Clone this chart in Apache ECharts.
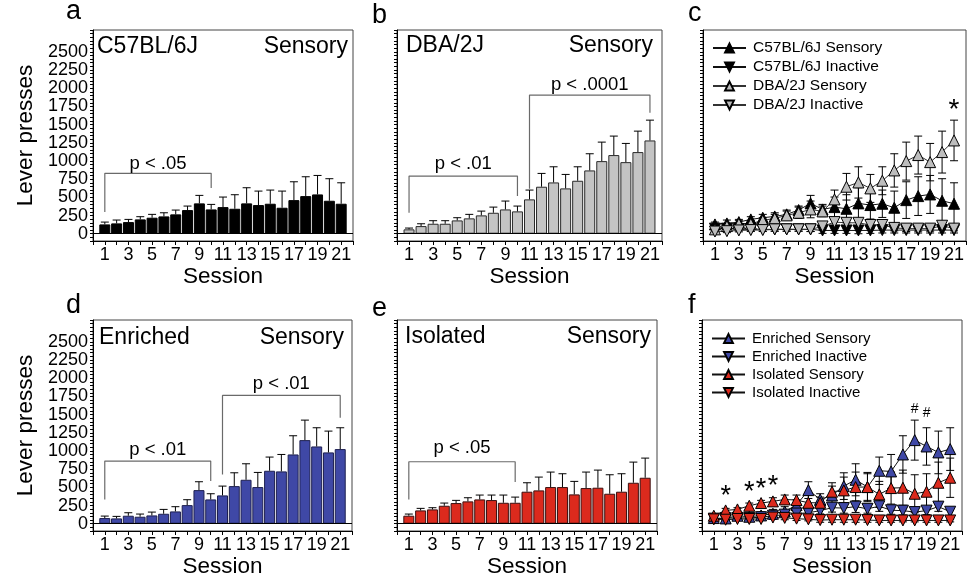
<!DOCTYPE html>
<html><head><meta charset="utf-8">
<script src="https://cdn.jsdelivr.net/npm/echarts@6/dist/echarts.min.js"></script>
<style>html,body{margin:0;padding:0;background:#fff}#c{width:969px;height:581px}</style>
</head><body><div id="c"></div>
<script>
const FONT = '"Liberation Sans", Arial, sans-serif';
const sessions = [1,2,3,4,5,6,7,8,9,10,11,12,13,14,15,16,17,18,19,20,21];
const xTickLabels = [1,3,5,7,9,11,13,15,17,19,21];
const yTickLabels = [0,250,500,750,1000,1250,1500,1750,2000,2250,2500];

// Panel a / c : C57BL/6J
const c57Sens    = [128,142,160,197,220,238,266,325,417,334,366,343,417,394,412,357,462,517,540,453,412];
const c57SensErr = [32,46,37,37,46,50,59,55,110,69,138,193,215,192,188,229,252,266,261,303,288];
const c57Inact    = [70,70,65,65,60,60,60,60,60,45,45,45,45,45,50,50,50,50,50,50,50];
const c57InactErr = [30,25,25,25,25,25,25,25,30,40,40,40,45,40,40,40,40,40,40,40,40];
// Panel b / c : DBA/2J
const dbaSens    = [60,105,137,137,183,211,252,288,334,307,472,646,705,623,728,870,998,1081,984,1122,1282];
const dbaSensErr = [18,32,42,42,37,55,59,78,115,73,128,183,215,192,192,229,261,261,257,288,279];
const dbaInact    = [30,35,45,50,50,60,60,60,60,100,160,150,150,120,120,80,70,70,70,110,70];
const dbaInactErr = [20,20,20,20,20,25,25,25,30,50,50,60,60,45,45,40,40,35,35,50,30];
// Panel d / f : Enriched
const enrSens    = [78,73,110,96,114,137,169,256,462,334,389,517,604,504,728,719,952,1149,1062,980,1026];
const enrSensErr = [27,28,41,37,46,60,65,74,115,78,128,183,220,201,188,233,257,275,257,293,293];
const enrInact    = [70,75,80,80,90,110,125,140,150,180,220,215,235,205,240,185,180,160,180,235,165];
const enrInactErr = [25,25,25,25,30,35,35,40,45,45,60,70,80,60,70,55,60,55,55,65,55];
// Panel e / f : Isolated
const isoSens    = [110,183,197,247,284,307,334,325,288,288,440,458,504,504,403,490,495,412,440,563,632];
const isoSensErr = [23,28,23,37,37,50,60,69,106,78,123,183,206,183,179,220,242,261,247,284,270];
const isoInact    = [60,55,65,65,65,85,80,70,60,50,55,55,55,50,45,45,45,45,45,45,45];
const isoInactErr = [25,25,20,20,20,25,25,25,20,30,35,35,35,30,25,25,20,20,25,25,20];

// Significance brackets (session, lever presses)
const bracketA  = [[1,300],[1,830],[10,830],[10,630]];
const bracketB1 = [[1,288],[1,792],[10,792],[10,517]];
const bracketB2 = [[11,618],[11,1905],[21,1905],[21,1662]];
const bracketD1 = [[1,334],[1,861],[10,861],[10,586]];
const bracketD2 = [[11,678],[11,1763],[21,1763],[21,1456]];
const bracketE  = [[1,334],[1,852],[10,852],[10,572]];
const pLabelsA = [[5.5,962,'p < .05']];
const pLabelsB = [[5.5,962,'p < .01'],[16,2047,'p < .0001']];
const pLabelsD = [[5.5,1016,'p < .01'],[16,1923,'p < .01']];
const pLabelsE = [[5.5,1044,'p < .05']];
const starsC = [[21,1700,'*']];
const starsF = [[2,370,'*'],[4,425,'*'],[5,467,'*'],[6,508,'*']];
const hashF  = [[18,1580,'#'],[19,1525,'#']];

const grids = [
  {left:93, top:30, width:260, height:211},
  {left:397,top:30, width:265, height:211},
  {left:703,top:30, width:264, height:211},
  {left:93, top:320,width:259, height:211},
  {left:397,top:320,width:260, height:211},
  {left:702,top:320,width:260, height:211}
];

function xAxis(i){
  return {type:'value', gridIndex:i, min:0, max:22, interval:1,
    axisLine:{show:true, onZero:false, lineStyle:{color:'#000', width:1}},
    axisTick:{show:true, length:4, lineStyle:{color:'#000'}},
    axisLabel:{fontSize:18, color:'#000', fontFamily:FONT, margin:5,
      formatter:v => xTickLabels.includes(v) ? String(v) : ''},
    splitLine:{show:false},
    name:'Session', nameLocation:'middle', nameGap:22,
    nameTextStyle:{fontSize:22.5, color:'#000', fontFamily:FONT}};
}
function yAxis(i, labels){
  const a = {type:'value', gridIndex:i, min:-100, max:2800, interval:50,
    axisLine:{show:true, onZero:false, lineStyle:{color:'#000', width:1}},
    axisTick:{show:true, length:3, lineStyle:{color:'#000'}},
    axisLabel:{show:labels, fontSize:18, color:'#000', fontFamily:FONT, margin:5,
      formatter:v => yTickLabels.includes(v) ? String(v) : ''},
    splitLine:{show:false}};
  if (labels) {
    a.name = 'Lever presses'; a.nameLocation = 'middle'; a.nameGap = 56; a.nameRotate = 90;
    a.nameTextStyle = {fontSize:22.5, color:'#000', fontFamily:FONT};
  }
  return a;
}
function pairs(vals){ return sessions.map((s,k)=>[s, vals[k]]); }
function triples(vals, errs){ return sessions.map((s,k)=>[s, vals[k], errs[k]]); }

function barSeries(i, vals, color, border){
  return {type:'bar', xAxisIndex:i, yAxisIndex:i, data:pairs(vals), barWidth:11,
    itemStyle:{color:color, borderColor:border, borderWidth:1}, silent:true, z:2,
    markLine:{silent:true, symbol:'none', label:{show:false}, animation:false,
      lineStyle:{color:'#000', width:1, type:'solid'}, data:[{yAxis:0}]}};
}
function errSeries(i, vals, errs, both){
  return {type:'custom', xAxisIndex:i, yAxisIndex:i, data:triples(vals, errs),
    encode:{x:0, y:1}, silent:true, z: both ? 1 : 3,
    renderItem:(params, api) => {
      const x = api.value(0), m = api.value(1), e = api.value(2);
      const top = api.coord([x, m + e]);
      const bot = api.coord([x, both ? m - e : m]);
      const hw = 4;
      const st = {stroke:'#000', lineWidth:1};
      const ch = [
        {type:'line', shape:{x1:top[0], y1:top[1], x2:bot[0], y2:bot[1]}, style:st},
        {type:'line', shape:{x1:top[0]-hw, y1:top[1], x2:top[0]+hw, y2:top[1]}, style:st}
      ];
      if (both) ch.push({type:'line', shape:{x1:bot[0]-hw, y1:bot[1], x2:bot[0]+hw, y2:bot[1]}, style:st});
      return {type:'group', children:ch};
    }};
}
function lineSeries(i, name, vals, fill, down, lineColor){
  return {type:'line', name:name, xAxisIndex:i, yAxisIndex:i, data:pairs(vals),
    symbol:'triangle', symbolSize:11, symbolRotate: down ? 180 : 0, showAllSymbol:true,
    itemStyle:{color:fill, borderColor:'#000', borderWidth:1},
    lineStyle:{color:lineColor || '#111', width:1}, silent:true, z:3, animation:false};
}
function bracketSeries(i, pts){
  return {type:'line', xAxisIndex:i, yAxisIndex:i, data:pts, symbol:'none', silent:true,
    lineStyle:{color:'#6a6a6a', width:1.2}, z:1, animation:false};
}
function textSeries(i, items, size){
  return {type:'custom', xAxisIndex:i, yAxisIndex:i, silent:true, z:5,
    data: items.map(t => [t[0], t[1]]), encode:{x:0, y:1},
    renderItem:(params, api) => {
      const p = api.coord([api.value(0), api.value(1)]);
      return {type:'text', x:p[0], y:p[1],
        style:{text:items[params.dataIndex][2], fontSize:size, fontFamily:FONT, fill:'#000',
          textAlign:'center', textVerticalAlign:'middle'}};
    }};
}
function txt(x, y, s, size, align){
  return {type:'text', x:x, y:y, silent:true,
    style:{text:s, fontSize:size, fontFamily:FONT, fill:'#000', textAlign:align||'left', textVerticalAlign:'middle'}};
}

const legendBase = {orient:'vertical', itemWidth:33, itemHeight:11, itemGap:3, selectedMode:false,
  inactiveColor:'#000', textStyle:{fontSize:15.5, color:'#000', fontFamily:FONT, padding:[0,0,0,2]}};

const option = {
  animation:false,
  backgroundColor:'#fff',
  grid: grids.map(g => Object.assign({show:true, borderColor:'#444', borderWidth:1, containLabel:false}, g)),
  xAxis: [0,1,2,3,4,5].map(xAxis),
  yAxis: [0,1,2,3,4,5].map(i => yAxis(i, i===0 || i===3)),
  legend: [
    Object.assign({}, legendBase, {left:707, top:35,
      data:['C57BL/6J Sensory','C57BL/6J Inactive','DBA/2J Sensory','DBA/2J Inactive']}),
    Object.assign({}, legendBase, {left:706, top:326, textStyle:Object.assign({}, legendBase.textStyle, {fontSize:15}),
      data:['Enriched Sensory','Enriched Inactive','Isolated Sensory','Isolated Inactive']})
  ],
  graphic: [
    txt(66, 12, 'a', 27), txt(372, 16, 'b', 27), txt(688, 14, 'c', 27),
    txt(66, 306, 'd', 27), txt(372, 309, 'e', 27), txt(688, 306, 'f', 27),
    txt(97, 47, 'C57BL/6J', 23), txt(348, 47, 'Sensory', 23, 'right'),
    txt(406, 46, 'DBA/2J', 23), txt(653, 46, 'Sensory', 23, 'right'),
    txt(99, 338, 'Enriched', 23), txt(344, 338, 'Sensory', 23, 'right'),
    txt(405, 337, 'Isolated', 23), txt(651, 337, 'Sensory', 23, 'right')
  ],
  series: [
    // a
    barSeries(0, c57Sens, '#000', '#000'), errSeries(0, c57Sens, c57SensErr, false),
    bracketSeries(0, bracketA), textSeries(0, pLabelsA, 18.5),
    // b
    barSeries(1, dbaSens, '#c4c4c4', '#2a2a2a'), errSeries(1, dbaSens, dbaSensErr, false),
    bracketSeries(1, bracketB1), bracketSeries(1, bracketB2), textSeries(1, pLabelsB, 18.5),
    // c
    errSeries(2, c57Sens, c57SensErr, true), errSeries(2, c57Inact, c57InactErr, true),
    errSeries(2, dbaSens, dbaSensErr, true), errSeries(2, dbaInact, dbaInactErr, true),
    lineSeries(2, 'C57BL/6J Sensory', c57Sens, '#000', false),
    lineSeries(2, 'C57BL/6J Inactive', c57Inact, '#000', true),
    lineSeries(2, 'DBA/2J Sensory', dbaSens, '#bdbdbd', false, '#333'),
    lineSeries(2, 'DBA/2J Inactive', dbaInact, '#bdbdbd', true, '#333'),
    textSeries(2, starsC, 28),
    // d
    barSeries(3, enrSens, '#3f48a6', '#1e2050'), errSeries(3, enrSens, enrSensErr, false),
    bracketSeries(3, bracketD1), bracketSeries(3, bracketD2), textSeries(3, pLabelsD, 18.5),
    // e
    barSeries(4, isoSens, '#dc2a1d', '#3a1010'), errSeries(4, isoSens, isoSensErr, false),
    bracketSeries(4, bracketE), textSeries(4, pLabelsE, 18.5),
    // f
    errSeries(5, enrSens, enrSensErr, true), errSeries(5, enrInact, enrInactErr, true),
    errSeries(5, isoSens, isoSensErr, true), errSeries(5, isoInact, isoInactErr, true),
    lineSeries(5, 'Enriched Sensory', enrSens, '#3f48a6', false),
    lineSeries(5, 'Enriched Inactive', enrInact, '#3f48a6', true),
    lineSeries(5, 'Isolated Sensory', isoSens, '#dc2a1d', false),
    lineSeries(5, 'Isolated Inactive', isoInact, '#dc2a1d', true),
    textSeries(5, starsF, 27), textSeries(5, hashF, 14)
  ]
};
const chart = echarts.init(document.getElementById('c'), null, {renderer:'canvas'});
chart.setOption(option);
</script></body></html>
